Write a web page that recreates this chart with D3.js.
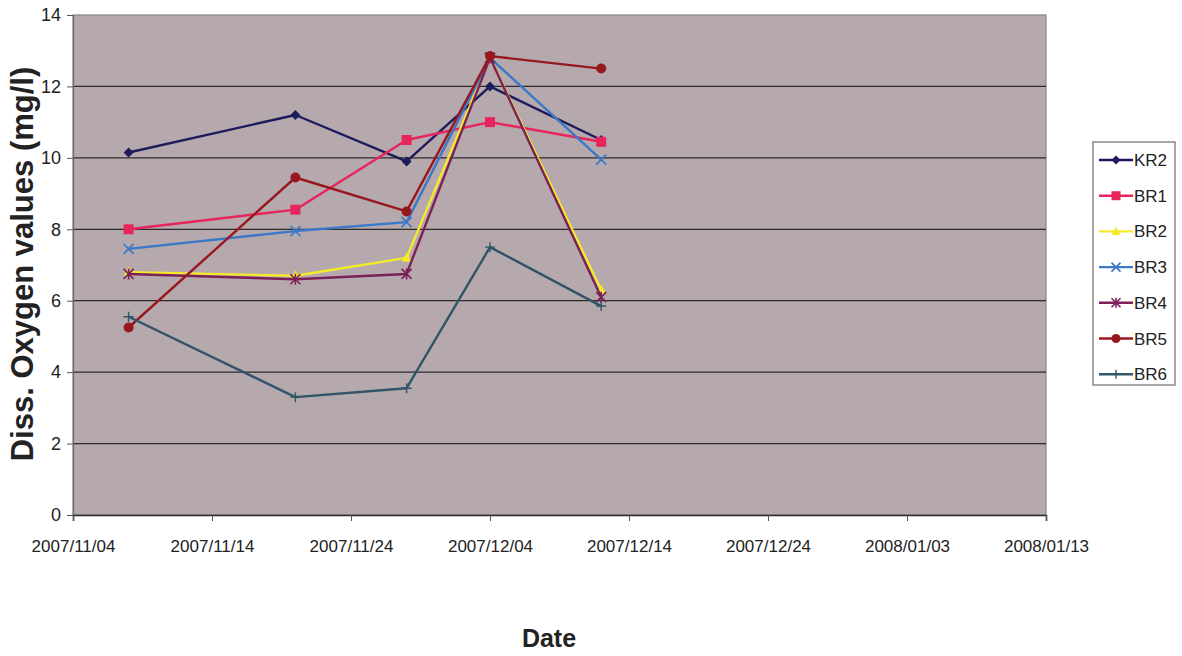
<!DOCTYPE html>
<html>
<head>
<meta charset="utf-8">
<script src="https://cdn.jsdelivr.net/npm/d3@7"></script>
<style>
  html, body { margin: 0; padding: 0; background: #fff; }
  svg { display: block; font-family: "Liberation Sans", Arial, sans-serif; }
</style>
</head>
<body>
<svg id="chart" width="1182" height="656"></svg>
<script>
// Sampling dates
const dates = ["2007/11/08", "2007/11/20", "2007/11/28", "2007/12/04", "2007/12/12"];

// Dissolved oxygen (mg/l) per station
const KR2 = [10.15, 11.2, 9.9, 12.0, 10.5];
const BR1 = [8.0, 8.55, 10.5, 11.0, 10.45];
const BR2 = [6.8, 6.7, 7.2, 12.8, 6.3];
const BR3 = [7.45, 7.95, 8.2, 12.8, 9.95];
const BR4 = [6.75, 6.6, 6.75, 12.8, 6.1];
const BR5 = [5.25, 9.45, 8.5, 12.85, 12.5];
const BR6 = [5.55, 3.3, 3.55, 7.5, 5.85];

const xTicks = ["2007/11/04", "2007/11/14", "2007/11/24", "2007/12/04",
                "2007/12/14", "2007/12/24", "2008/01/03", "2008/01/13"];
const yTicks = [0, 2, 4, 6, 8, 10, 12, 14];

const series = [
  { name: "KR2", values: KR2, color: "#1e1b5c", marker: "diamond" },
  { name: "BR1", values: BR1, color: "#e8245c", marker: "square" },
  { name: "BR2", values: BR2, color: "#f4ea2a", marker: "triangle" },
  { name: "BR3", values: BR3, color: "#3b78c8", marker: "x" },
  { name: "BR4", values: BR4, color: "#7c2158", marker: "star" },
  { name: "BR5", values: BR5, color: "#98181f", marker: "circle" },
  { name: "BR6", values: BR6, color: "#2f5566", marker: "plus" }
];

const parse = d3.timeParse("%Y/%m/%d");
const fmt = d3.timeFormat("%Y/%m/%d");

const plot = { left: 73, right: 1046, top: 15, bottom: 515 };
const svg = d3.select("#chart");

const x = d3.scaleTime()
  .domain([parse(xTicks[0]), parse(xTicks[xTicks.length - 1])])
  .range([plot.left, plot.right]);
const y = d3.scaleLinear().domain([0, 14]).range([plot.bottom, plot.top]);

// Plot background
svg.append("rect")
  .attr("x", plot.left).attr("y", plot.top)
  .attr("width", plot.right - plot.left).attr("height", plot.bottom - plot.top)
  .attr("fill", "#b5a9ad")
  .attr("stroke", "#8a8587").attr("stroke-width", 1.2);

// Horizontal gridlines
svg.append("g")
  .selectAll("line")
  .data(yTicks.filter(v => v > 0 && v < 14))
  .join("line")
  .attr("x1", plot.left).attr("x2", plot.right)
  .attr("y1", d => y(d)).attr("y2", d => y(d))
  .attr("stroke", "#2e2a2c").attr("stroke-width", 1.3);

// Y axis
const yAxis = svg.append("g")
  .attr("transform", `translate(${plot.left},0)`)
  .call(d3.axisLeft(y).tickValues(yTicks).tickSize(6).tickPadding(6).tickFormat(d3.format("d")));
yAxis.select(".domain").attr("stroke", "#6e6a6c").attr("stroke-width", 1.2);
yAxis.selectAll(".tick line").attr("stroke", "#555");
yAxis.selectAll("text").attr("font-size", 18).attr("fill", "#222")
  .attr("font-family", "'Liberation Sans', Arial, sans-serif");

// X axis
const xAxis = svg.append("g")
  .attr("transform", `translate(0,${plot.bottom})`)
  .call(d3.axisBottom(x).tickValues(xTicks.map(parse)).tickSize(6).tickPadding(19).tickFormat(fmt));
xAxis.select(".domain").attr("stroke", "#2e2a2c").attr("stroke-width", 1.6);
xAxis.selectAll(".tick line").attr("stroke", "#555");
xAxis.selectAll("text").attr("font-size", 17).attr("fill", "#222")
  .attr("font-family", "'Liberation Sans', Arial, sans-serif");

// Axis titles
svg.append("text")
  .attr("x", 549).attr("y", 647)
  .attr("text-anchor", "middle")
  .attr("font-size", 25).attr("font-weight", "bold").attr("fill", "#222")
  .text("Date");
svg.append("text")
  .attr("transform", "translate(33,264) rotate(-90)")
  .attr("text-anchor", "middle")
  .attr("font-size", 31).attr("font-weight", "bold").attr("fill", "#222")
  .text("Diss. Oxygen values (mg/l)");

// Marker drawing
function drawMarker(g, type, color, size) {
  const s = size;
  switch (type) {
    case "diamond":
      g.append("path").attr("d", `M0,${-s}L${s},0L0,${s}L${-s},0Z`).attr("fill", color);
      break;
    case "square":
      g.append("rect").attr("x", -s).attr("y", -s).attr("width", 2 * s).attr("height", 2 * s).attr("fill", color);
      break;
    case "triangle":
      g.append("path").attr("d", `M0,${-s * 1.1}L${s},${s * 0.8}L${-s},${s * 0.8}Z`).attr("fill", color);
      break;
    case "x":
      g.append("path").attr("d", `M${-s},${-s}L${s},${s}M${-s},${s}L${s},${-s}`)
        .attr("stroke", color).attr("stroke-width", 1.6);
      break;
    case "star":
      g.append("path").attr("d", `M${-s},${-s}L${s},${s}M${-s},${s}L${s},${-s}M0,${-s * 1.1}L0,${s * 1.1}`)
        .attr("stroke", color).attr("stroke-width", 1.6);
      break;
    case "circle":
      g.append("circle").attr("r", s).attr("fill", color);
      break;
    case "plus":
      g.append("path").attr("d", `M${-s},0L${s},0M0,${-s}L0,${s}`)
        .attr("stroke", color).attr("stroke-width", 1.4);
      break;
  }
}

const line = d3.line().x(d => x(d.date)).y(d => y(d.v));

series.forEach(s => {
  const pts = s.values.map((v, i) => ({ date: parse(dates[i]), v }));
  const g = svg.append("g");
  g.append("path")
    .datum(pts)
    .attr("d", line)
    .attr("fill", "none")
    .attr("stroke", s.color)
    .attr("stroke-width", 2.4)
    .attr("stroke-linejoin", "round");
  pts.forEach(p => {
    const m = g.append("g").attr("transform", `translate(${x(p.date)},${y(p.v)})`);
    drawMarker(m, s.marker, s.color, 5);
  });
});

// Legend
const legend = svg.append("g");
legend.append("rect")
  .attr("x", 1093).attr("y", 142).attr("width", 82).attr("height", 243)
  .attr("fill", "#fff").attr("stroke", "#6e6a6c").attr("stroke-width", 1.2);
series.forEach((s, i) => {
  const ly = 160 + i * 35.7;
  const g = legend.append("g");
  g.append("line").attr("x1", 1099).attr("x2", 1133).attr("y1", ly).attr("y2", ly)
    .attr("stroke", s.color).attr("stroke-width", 2.4);
  const m = g.append("g").attr("transform", `translate(1116,${ly})`);
  drawMarker(m, s.marker, s.color, 4.5);
  g.append("text").attr("x", 1134).attr("y", ly + 6)
    .attr("font-size", 17).attr("fill", "#222").text(s.name);
});
</script>
</body>
</html>
